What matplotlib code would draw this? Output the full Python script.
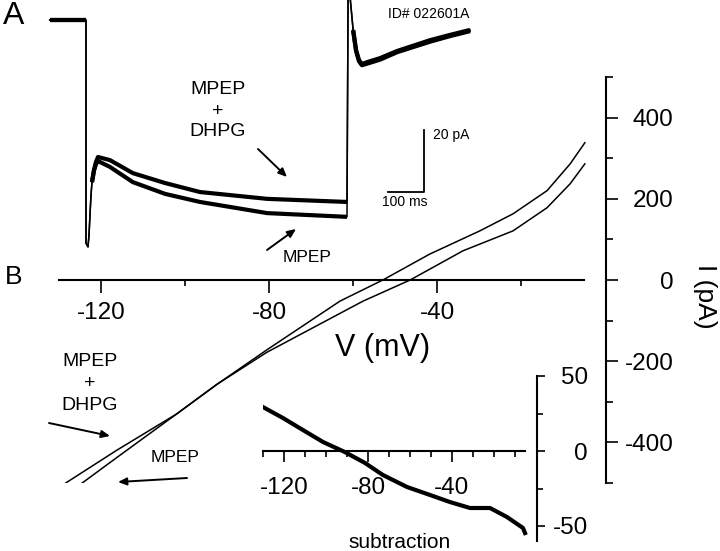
import matplotlib
matplotlib.use("Agg")
import matplotlib.pyplot as plt
from matplotlib.ticker import FixedLocator, NullFormatter
from matplotlib.patches import FancyArrowPatch
from matplotlib.transforms import Affine2D

plt.rcParams['font.family'] = ['Liberation Sans', 'DejaVu Sans']
plt.rcParams['axes.unicode_minus'] = False

# ---------------- data ----------------
# Panel B: I-V curves (mV, pA)
v_dhpg = [-129, -116.2, -102, -92.4, -80.5, -60.7, -57.6, -46.4, -33.8, -21.9, -13.8, -8.3, -4.8]
i_dhpg = [-504, -419, -330, -257, -178, -69, -52, 0, 72, 121, 178, 237, 286]
v_mpep = [-125, -116.2, -102, -92.4, -80.5, -63.1, -52.9, -41.7, -29.8, -21.9, -13.8, -8.3, -4.8]
i_mpep = [-504, -437, -330, -257, -172, -52, 0, 64, 121, 163, 220, 286, 338]

# subtraction (mV, pA)
v_sub = [-130, -120.5, -111, -101.4, -91, -81.4, -72.9, -61.4, -50.5, -41, -31.4, -21.9, -13.8, -6.2, -5.2]
i_sub = [29.3, 22, 14, 6, -0.7, -8, -16, -24, -29.3, -34, -38, -38, -44, -51.3, -54.7]

# Panel A: current traces (ms, pA relative to holding)
t_trace = [-100, 0, 0, 5.5, 8.3, 11, 13.8, 16.5, 22, 27.5, 33, 66, 129, 218, 314, 499, 719,
           722, 727, 736, 744, 752, 760, 777, 810, 857, 948, 1003, 1058]
i_trace_dhpg = [0, 0, -72, -73.2, -69.4, -62.9, -56.5, -52.3, -48.4, -45.8, -44.2, -45.2, -49.4,
                -52.6, -55.5, -57.7, -58.7, 8, 8, -3.2, -9.7, -12.9, -14.2, -13.5, -12.3, -10, -6.5, -4.8, -3.2]
i_trace_mpep = [0, 0, -72, -73.2, -69.4, -62.9, -56.5, -52.3, -48.6, -46.5, -45.5, -47.4, -52.3,
                -56.1, -58.7, -62.3, -63.5, 8, 8, -3.5, -10, -13.3, -14.6, -14, -12.8, -10.4, -7, -5.2, -3.6]
# index ranges of the trace drawn as thick (noisy) band: holding, step, tail
thick_segments = [(0, 2), (7, 17), (19, 29)]

main_xticks_major = [-120, -80, -40]
main_xticks_minor = [-100, -60, -20]
main_yticks_major = [-400, -200, 0, 200, 400]
main_yticks_minor = [-500, -300, -100, 100, 300, 500]
sub_xticks_major = [-120, -80, -40]
sub_xticks_minor = [-130, -110, -100, -90, -70, -60, -50, -30, -20, -10]
sub_yticks_major = [-50, 0, 50]
sub_yticks_minor = [-25, 25]

scalebar_pA = 20
scalebar_ms = 100

W, H = 720, 551
fig = plt.figure(figsize=(W / 100, H / 100), dpi=100)
PX = Affine2D().scale(1 / W, -1 / H).translate(0, 1) + fig.transFigure


def rect(x0, y0, x1, y1):
    return [x0 / W, 1 - y1 / H, (x1 - x0) / W, (y1 - y0) / H]


def ptext(x, y, s, **kw):
    fig.text(x, y, s, transform=PX, **kw)


def parrow(x0, y0, x1, y1):
    fig.add_artist(FancyArrowPatch((x0, y0), (x1, y1), transform=PX,
                                   arrowstyle='-|>,head_length=5,head_width=2.2',
                                   mutation_scale=1, lw=1.4, color='black',
                                   shrinkA=0, shrinkB=0))


# ---------------- main I-V axes ----------------
ax = fig.add_axes(rect(59, 77, 606, 483))
ax.patch.set_visible(False)
ax.set_xlim(-130, 0.238)
ax.set_ylim(-500, 500)
ax.plot(v_dhpg, i_dhpg, color='black', lw=1.1)
ax.plot(v_mpep, i_mpep, color='black', lw=1.1)
for s in ['left', 'top']:
    ax.spines[s].set_visible(False)
ax.spines['bottom'].set_position(('data', 0))
ax.spines['bottom'].set_bounds(-130, -5)
ax.spines['bottom'].set_linewidth(1.5)
ax.spines['right'].set_linewidth(1.5)
ax.yaxis.tick_right()
ax.xaxis.set_major_locator(FixedLocator(main_xticks_major))
ax.xaxis.set_minor_locator(FixedLocator(main_xticks_minor))
ax.yaxis.set_major_locator(FixedLocator(main_yticks_major))
ax.yaxis.set_minor_locator(FixedLocator(main_yticks_minor))
ax.xaxis.set_minor_formatter(NullFormatter())
ax.yaxis.set_minor_formatter(NullFormatter())
ax.tick_params(axis='x', which='major', direction='out', length=9, width=1.2, labelsize=17.5, pad=6.5)
ax.tick_params(axis='x', which='minor', direction='out', length=4.5, width=1.2)
ax.tick_params(axis='y', which='major', direction='out', length=8.6, width=1.2, labelsize=17.5, pad=40)
ax.tick_params(axis='y', which='minor', direction='out', length=5, width=1.2)
ax.set_xticklabels([str(v) for v in main_xticks_major])
ax.set_yticklabels([str(v) for v in main_yticks_major])
for lab in ax.get_yticklabels():
    lab.set_horizontalalignment('right')

# ---------------- subtraction inset ----------------
axs = fig.add_axes(rect(263, 376, 537, 541))
axs.patch.set_visible(False)
axs.set_xlim(-130, 0.5)
axs.set_ylim(-60, 50)
axs.plot(v_sub, i_sub, color='black', lw=3.0)
for s in ['left', 'top']:
    axs.spines[s].set_visible(False)
axs.spines['bottom'].set_position(('data', 0))
axs.spines['bottom'].set_bounds(-130, -5)
axs.spines['bottom'].set_linewidth(1.5)
axs.spines['right'].set_linewidth(1.5)
axs.yaxis.tick_right()
axs.xaxis.set_major_locator(FixedLocator(sub_xticks_major))
axs.xaxis.set_minor_locator(FixedLocator(sub_xticks_minor))
axs.yaxis.set_major_locator(FixedLocator(sub_yticks_major))
axs.yaxis.set_minor_locator(FixedLocator(sub_yticks_minor))
axs.xaxis.set_minor_formatter(NullFormatter())
axs.yaxis.set_minor_formatter(NullFormatter())
axs.tick_params(axis='x', which='major', direction='out', length=8, width=1.2, labelsize=17.5, pad=11)
axs.tick_params(axis='x', which='minor', direction='out', length=4.3, width=1.2)
axs.tick_params(axis='y', which='major', direction='out', length=5.8, width=1.2, labelsize=17.5, pad=31)
axs.tick_params(axis='y', which='minor', direction='out', length=4.3, width=1.2)
axs.set_xticklabels([str(v) for v in sub_xticks_major])
axs.set_yticklabels([str(v) for v in sub_yticks_major])
for lab in axs.get_yticklabels():
    lab.set_horizontalalignment('right')

# ---------------- panel A trace inset ----------------
axa = fig.add_axes(rect(40, 0, 480, 250))
axa.set_axis_off()
axa.set_xlim(-126.7, 1085.4)
axa.set_ylim(-74.2, 6.45)
for it in (i_trace_dhpg, i_trace_mpep):
    axa.plot(t_trace, it, color='black', lw=1.1)
    for a, b in thick_segments:
        axa.plot(t_trace[a:b], it[a:b], color='black', lw=3.0, solid_capstyle='butt')

# scale bar (anchored at its corner)
sb_t, sb_i = 931, -55.5
axa.plot([sb_t - scalebar_ms, sb_t, sb_t], [sb_i, sb_i, sb_i + scalebar_pA], color='black', lw=1.3)

# ---------------- text ----------------
ptext(14, 16, 'A', fontsize=23, ha='center', va='center')
ptext(14, 277, 'B', fontsize=19, ha='center', va='center')
ptext(429, 14, 'ID# 022601A', fontsize=10, ha='center', va='center')
ptext(433, 135, '20 pA', fontsize=10, ha='left', va='center')
ptext(405, 202, '100 ms', fontsize=10, ha='center', va='center')

for y, s in [(90, 'MPEP'), (111, '+'), (131, 'DHPG')]:
    ptext(218, y, s, fontsize=14, ha='center', va='center')
ptext(307, 257, 'MPEP', fontsize=12.5, ha='center', va='center')
for y, s in [(362, 'MPEP'), (383, '+'), (405, 'DHPG')]:
    ptext(90, y, s, fontsize=14, ha='center', va='center')
ptext(175, 458, 'MPEP', fontsize=12.5, ha='center', va='center')

ptext(383, 348, 'V (mV)', fontsize=22, ha='center', va='center')
ptext(705, 296, 'I (pA)', fontsize=19, ha='center', va='center', rotation=-90)
ptext(400, 542, 'subtraction', fontsize=15, ha='center', va='center')

parrow(258, 149, 287, 177)
parrow(267, 250, 296, 229)
parrow(49, 423, 110, 436)
parrow(187, 478, 118, 482)

fig.savefig('out.png', dpi=100)
